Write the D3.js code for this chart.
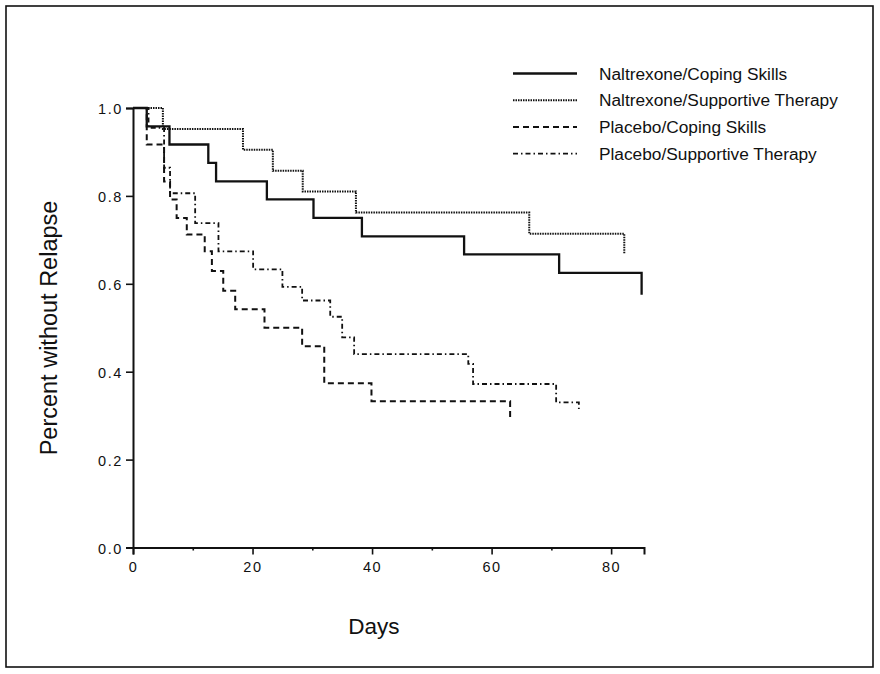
<!DOCTYPE html>
<html>
<head>
<meta charset="utf-8">
<script src="https://cdn.jsdelivr.net/npm/d3@7"></script>
<style>
  body { margin: 0; background: #fff; }
  svg { display: block; font-family: "Liberation Sans", Arial, sans-serif; }
</style>
</head>
<body>
<svg id="chart" width="880" height="674"></svg>
<script>
// Kaplan-Meier step curves: day of each step and the proportion after it
const ncsDays = [0, 2.3, 6.1, 12.6, 13.9, 22.4, 30.2, 38.3, 55.4, 71.3, 85.1];
const ncsSurv = [1, 0.958, 0.917, 0.875, 0.833, 0.792, 0.75, 0.708, 0.667, 0.625, 0.575];

const nstDays = [0, 5.0, 18.4, 23.4, 28.4, 37.3, 66.3, 82.2];
const nstSurv = [1, 0.952, 0.905, 0.857, 0.81, 0.762, 0.714, 0.667];

const pcsDays = [0, 2.3, 5.2, 6.2, 7.3, 9.0, 12.0, 13.2, 15.1, 17.1, 22.0, 28.3, 32.0, 39.9, 63.1];
const pcsSurv = [1, 0.917, 0.833, 0.792, 0.75, 0.712, 0.674, 0.629, 0.584, 0.542, 0.5, 0.458, 0.374, 0.333, 0.294];

const pstDays = [0, 2.6, 5.2, 6.2, 10.4, 14.3, 20.1, 25.0, 28.3, 33.0, 35.0, 37.0, 56.1, 56.9, 70.8, 74.6];
const pstSurv = [1, 0.955, 0.864, 0.806, 0.738, 0.674, 0.633, 0.593, 0.562, 0.525, 0.478, 0.44, 0.418, 0.372, 0.33, 0.315];

const seriesNames = ["Naltrexone/Coping Skills", "Naltrexone/Supportive Therapy",
                     "Placebo/Coping Skills", "Placebo/Supportive Therapy"];
const xTicks = [0, 20, 40, 60, 80];
const xMinorTicks = [10, 30, 50, 70];
const yTicks = [0, 0.2, 0.4, 0.6, 0.8, 1.0];

const series = [
  {name: seriesNames[0], days: ncsDays, surv: ncsSurv, dash: null, w: 2.3},
  {name: seriesNames[1], days: nstDays, surv: nstSurv, dash: "1.5,1", w: 2},
  {name: seriesNames[2], days: pcsDays, surv: pcsSurv, dash: "6,4", w: 2},
  {name: seriesNames[3], days: pstDays, surv: pstSurv, dash: "5,3,1.5,3", w: 1.8}
];

const svg = d3.select("#chart");

// outer frame
svg.append("rect")
  .attr("x", 6).attr("y", 6).attr("width", 867).attr("height", 661)
  .attr("fill", "none").attr("stroke", "#111").attr("stroke-width", 1.6);

const x = d3.scaleLinear().domain([0, 85.5]).range([133, 644]);
const y = d3.scaleLinear().domain([0, 1]).range([547.5, 108]);

// axes
const xAxis = svg.append("g").attr("transform", `translate(0,${y(0)})`)
  .call(d3.axisBottom(x).tickValues(xTicks).tickSize(7).tickFormat(d3.format("d")));
svg.append("g").attr("transform", `translate(0,${y(0)})`)
  .call(d3.axisBottom(x).tickValues(xMinorTicks).tickSize(3).tickFormat(""))
  .select(".domain").remove();
const yAxis = svg.append("g").attr("transform", `translate(${x(0)},0)`)
  .call(d3.axisLeft(y).tickValues(yTicks).tickSize(7).tickFormat(d3.format(".1f")));

svg.selectAll(".domain").attr("stroke", "#111").attr("stroke-width", 2);
svg.selectAll(".tick line").attr("stroke", "#111").attr("stroke-width", 1.6);
xAxis.selectAll(".tick text")
  .attr("y", 14).attr("font-size", 14.5).attr("letter-spacing", 1.6).attr("fill", "#111");
yAxis.selectAll(".tick text")
  .attr("x", -10).attr("dy", "0.38em").attr("font-size", 14.5).attr("letter-spacing", 1.6).attr("fill", "#111");

// step curves
const line = d3.line().curve(d3.curveStepAfter)
  .x(d => x(d[0])).y(d => y(d[1]));

series.forEach(s => {
  svg.append("path")
    .datum(s.days.map((d, i) => [d, s.surv[i]]))
    .attr("d", line)
    .attr("fill", "none")
    .attr("stroke", "#111")
    .attr("stroke-width", s.w)
    .attr("stroke-dasharray", s.dash);
});

// legend
const legend = svg.append("g");
series.forEach((s, i) => {
  const ly = 73.5 + i * 26.7;
  legend.append("line")
    .attr("x1", 513).attr("x2", 577).attr("y1", ly).attr("y2", ly)
    .attr("stroke", "#111").attr("stroke-width", s.w)
    .attr("stroke-dasharray", s.dash);
  legend.append("text")
    .attr("x", 599).attr("y", ly).attr("dy", "0.36em")
    .attr("font-size", 17.3).attr("fill", "#111")
    .text(s.name);
});

// axis titles
svg.append("text")
  .attr("transform", "translate(57,328) rotate(-90)")
  .attr("text-anchor", "middle")
  .attr("font-size", 23.5).attr("fill", "#111")
  .text("Percent without Relapse");
svg.append("text")
  .attr("x", 374).attr("y", 634)
  .attr("text-anchor", "middle")
  .attr("font-size", 22.5).attr("fill", "#111")
  .text("Days");
</script>
</body>
</html>
